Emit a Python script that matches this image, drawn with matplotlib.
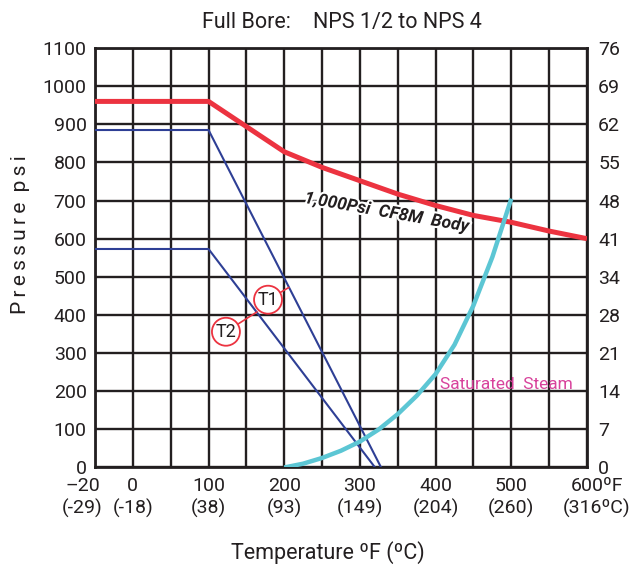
import numpy as np
import matplotlib
matplotlib.use("Agg")
import matplotlib.pyplot as plt
import matplotlib.patheffects as pe
import matplotlib.transforms as mtransforms

# pressure-temperature rating, full bore NPS 1/2 to NPS 4
body_temp = [-20, 100, 200, 250, 300, 350, 400, 450, 500, 550, 600]
body_psi = [960, 960, 828, 787, 752, 717, 687, 661, 643, 620, 600]

t1_temp = [-20, 100, 328]
t1_psi = [885, 885, 0]

t2_temp = [-20, 100, 320]
t2_psi = [573, 573, 0]

steam_temp = [200, 225, 250, 275, 300, 325, 350, 375, 400, 425, 450, 475, 500]
steam_psi = [0, 10, 25, 44, 68, 100, 140, 188, 245, 322, 425, 552, 705]

x_ticks = [-20, 0, 50, 100, 150, 200, 250, 300, 350, 400, 450, 500, 550, 600]
x_labels = ['\u201320\n(-29)', '0\n(-18)', '', '100\n(38)', '', '200\n(93)', '',
            '300\n(149)', '', '400\n(204)', '', '500\n(260)', '', '600\u00baF\n(316\u00baC)']
psi_ticks = list(range(0, 1200, 100))
bar_labels = ['0', '7', '14', '21', '28', '34', '41', '48', '55', '62', '69', '76']

plt.rcParams['font.family'] = ['Roboto', 'DejaVu Sans']
ink = '#231f20'


def fwd(t):
    t = np.asarray(t, dtype=float)
    return np.where(t < 0, 1 + t / 20.0, 1 + t / 50.0)


def inv(u):
    u = np.asarray(u, dtype=float)
    return np.where(u < 1, (u - 1) * 20.0, (u - 1) * 50.0)


fig = plt.figure(figsize=(6.32, 5.67), dpi=100)
ax = fig.add_axes([0.1503, 0.1755, 0.7785, 0.7398])
ax.set_xscale('function', functions=(fwd, inv))
ax.set_xlim(-20, 600)
ax.set_ylim(0, 1100)

ax.set_xticks(x_ticks)
ax.set_xticklabels(x_labels, fontsize=14, color=ink, linespacing=1.25)
ax.set_yticks(psi_ticks)
ax.set_yticklabels([str(v) for v in psi_ticks], fontsize=14, color=ink)
ax.tick_params(length=0, pad=6)
ax.tick_params(axis='x', pad=7)
ax.grid(True, color=ink, linewidth=1.7)
ax.set_axisbelow(True)
for s in ax.spines.values():
    s.set_linewidth(2.0)
    s.set_color(ink)

# first and last temperature labels sit off-centre in the original
labels = ax.get_xticklabels()
labels[0].set_transform(labels[0].get_transform() +
                        mtransforms.ScaledTranslation(-9 / 72, 0, fig.dpi_scale_trans))
labels[-1].set_transform(labels[-1].get_transform() +
                         mtransforms.ScaledTranslation(7 / 72, 0, fig.dpi_scale_trans))

twin = ax.twinx()
twin.set_ylim(ax.get_ylim())
twin.set_yticks(psi_ticks)
twin.set_yticklabels(bar_labels, fontsize=14, color=ink)
twin.tick_params(length=0, pad=8)
for s in twin.spines.values():
    s.set_visible(False)

ax.plot(t2_temp, t2_psi, color='#2e3f95', lw=1.5, zorder=3)
ax.plot(t1_temp, t1_psi, color='#2e3f95', lw=1.5, zorder=3)
ax.plot(body_temp, body_psi, color='#ec3340', lw=3.6, zorder=4, solid_capstyle='butt')
ax.plot(steam_temp, steam_psi, color='#5cc6d4', lw=3.2, zorder=5, solid_capstyle='butt')

ax.text(335, 668, '1,000Psi  CF8M  Body', rotation=-10, rotation_mode='anchor',
        ha='center', va='center', fontsize=12.5, style='italic', weight='bold',
        color=ink, zorder=6,
        path_effects=[pe.withStroke(linewidth=3, foreground='white')])
ax.text(493, 217, 'Saturated  Steam', ha='center', va='center', fontsize=12.5,
        color='#d8439c', zorder=6)

circle = dict(boxstyle='circle,pad=0.2', fc='white', ec='#ec3340', lw=1.3)
ax.annotate('T1', xy=(206, 472), xytext=(178.6, 440), ha='center', va='center',
            fontsize=13, color=ink, bbox=circle, zorder=7,
            arrowprops=dict(arrowstyle='-', color='#ec3340', lw=1.2, shrinkA=0, shrinkB=0))
ax.annotate('T2', xy=(164, 408), xytext=(123, 356), ha='center', va='center',
            fontsize=13, color=ink, bbox=circle, zorder=7,
            arrowprops=dict(arrowstyle='-', color='#ec3340', lw=1.2, shrinkA=0, shrinkB=0))

fig.text(0.39, 0.961, 'Full Bore:', ha='center', va='center', fontsize=15.5, color=ink)
fig.text(0.629, 0.961, 'NPS 1/2 to NPS 4', ha='center', va='center', fontsize=15.5, color=ink)
fig.text(0.519, 0.0247, 'Temperature \u00baF (\u00baC)', ha='center', va='center',
         fontsize=15.5, color=ink)
fig.text(0.032, 0.587, 'P\u2009r\u2009e\u2009s\u2009s\u2009u\u2009r\u2009e  p\u2009s\u2009i',
         rotation=90, ha='center', va='center', fontsize=15, color=ink)

fig.savefig('out.png', dpi=100)
